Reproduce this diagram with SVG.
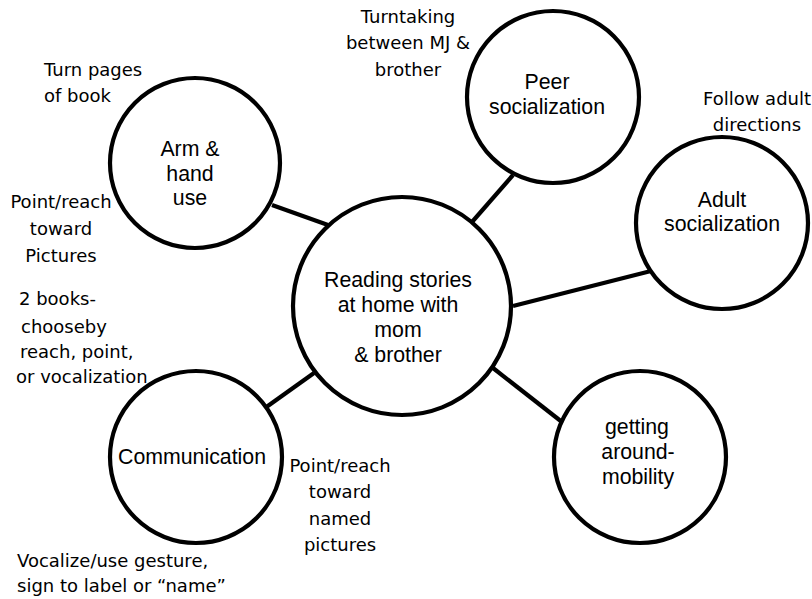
<svg xmlns="http://www.w3.org/2000/svg" width="812" height="599" viewBox="0 0 812 599">
<style>
.c{fill:#fff;stroke:#000;stroke-width:4.2}
.l{stroke:#000;stroke-width:4.2;stroke-linecap:butt;fill:none}
.t{font-family:"Liberation Sans",Arial,sans-serif;font-size:21.3px;fill:#000;text-anchor:middle}
.a{font-family:"DejaVu Sans","Comic Sans MS",sans-serif;font-size:18px;fill:#000}
.m{text-anchor:middle}
</style>
<rect width="812" height="599" fill="#fff"/>
<g id="connectors">
<line class="l" x1="272" y1="205" x2="328" y2="225"/>
<line class="l" x1="513" y1="175" x2="472" y2="222"/>
<line class="l" x1="651" y1="271" x2="513" y2="306"/>
<line class="l" x1="493" y1="368" x2="562" y2="422"/>
<line class="l" x1="265" y1="408" x2="314" y2="373"/>
</g>
<g id="center">
<circle class="c" cx="402" cy="306" r="109"/>
<text class="t" x="398" y="287">Reading stories</text>
<text class="t" x="398" y="312">at home with</text>
<text class="t" x="398" y="337">mom</text>
<text class="t" x="398" y="362">&amp; brother</text>
</g>
<g id="arm">
<circle class="c" cx="195" cy="163" r="85"/>
<text class="t" x="190" y="156">Arm &amp;</text>
<text class="t" x="190" y="181">hand</text>
<text class="t" x="190" y="205">use</text>
</g>
<g id="peer">
<circle class="c" cx="553" cy="97" r="86"/>
<text class="t" x="547" y="89">Peer</text>
<text class="t" x="547" y="114">socialization</text>
</g>
<g id="adult">
<circle class="c" cx="722" cy="223" r="86"/>
<text class="t" x="722" y="207">Adult</text>
<text class="t" x="722" y="231">socialization</text>
</g>
<g id="mobility">
<circle class="c" cx="640" cy="457" r="86"/>
<text class="t" x="637" y="434">getting</text>
<text class="t" x="638" y="459">around-</text>
<text class="t" x="638" y="484">mobility</text>
</g>
<g id="communication">
<circle class="c" cx="196" cy="457" r="86"/>
<text class="t" x="192" y="464">Communication</text>
</g>
<g id="annotations">
<text class="a" x="44" y="76">Turn pages</text>
<text class="a" x="44" y="102">of book</text>
<text class="a m" x="61" y="208">Point/reach</text>
<text class="a m" x="61" y="235">toward</text>
<text class="a m" x="61" y="262">Pictures</text>
<text class="a" x="19" y="305">2 books-</text>
<text class="a" x="21" y="333">chooseby</text>
<text class="a" x="20" y="358">reach, point,</text>
<text class="a" x="16" y="383">or vocalization</text>
<text class="a m" x="408" y="23">Turntaking</text>
<text class="a m" x="408" y="49">between MJ &amp;</text>
<text class="a m" x="408" y="76">brother</text>
<text class="a m" x="757" y="105">Follow adult</text>
<text class="a m" x="757" y="131">directions</text>
<text class="a m" x="340" y="472">Point/reach</text>
<text class="a m" x="340" y="498">toward</text>
<text class="a m" x="340" y="525">named</text>
<text class="a m" x="340" y="551">pictures</text>
<text class="a" x="17" y="567">Vocalize/use gesture,</text>
<text class="a" x="17" y="592">sign to label or “name”</text>
</g>
</svg>
